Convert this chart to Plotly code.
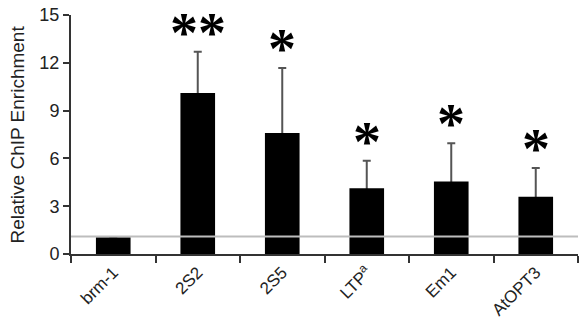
import plotly.graph_objects as go

categories = ["brm-1", "2S2", "2S5", "LTP<sup>a</sup>", "Em1", "AtOPT3"]
values = [1.05, 10.1, 7.6, 4.13, 4.55, 3.6]
errors = [0, 2.6, 4.07, 1.72, 2.4, 1.8]
stars = ["", "**", "*", "*", "*", "*"]
reference_level = 1.1

fig = go.Figure()
# error bars (drawn underneath the bars so the lower cap is hidden inside the bar)
fig.add_trace(go.Scatter(
    x=categories, y=values, mode="markers", marker=dict(size=1, opacity=0),
    error_y=dict(type="data", array=errors, arrayminus=[0.3]*len(errors), symmetric=False,
                 color="#555555", thickness=2, width=4),
    hoverinfo="skip", xaxis="x", yaxis="y",
))
fig.add_trace(go.Bar(
    x=categories, y=values, width=0.41,
    marker=dict(color="black", line=dict(width=0)),
    xaxis="x", yaxis="y2",
))

for c, v, e, s in zip(categories, values, errors, stars):
    if s:
        fig.add_annotation(x=c, y=v + e, text=s, showarrow=False, xref="x", yref="y",
                           yanchor="middle", yshift=19,
                           font=dict(family="Liberation Serif", size=56, color="black",
                                     weight="bold"))

fig.add_annotation(text="Relative ChIP Enrichment", xref="paper", yref="paper", x=0, y=0.5,
                   xshift=-54, textangle=-90, showarrow=False, xanchor="center", yanchor="middle",
                   font=dict(size=19, family="Liberation Sans", color="#222222"))

fig.add_shape(type="line", xref="paper", yref="y", x0=0, x1=1, y0=reference_level, y1=reference_level,
              line=dict(color="#bdbdbd", width=2), layer="above")

fig.update_layout(
    width=580, height=330, margin=dict(l=71, r=2, t=15, b=76),
    plot_bgcolor="white", paper_bgcolor="white", showlegend=False,
    font=dict(family="Liberation Sans", size=18, color="#222222"),
    yaxis2=dict(range=[0, 15], overlaying="y", visible=False),
)
fig.update_layout(yaxis=dict(range=[0, 15], tickvals=[0, 3, 6, 9, 12, 15], ticks="outside", ticklen=6,
                 tickwidth=2, tickcolor="#333", showline=True, linecolor="#333", linewidth=2,
                 showgrid=False, zeroline=False, automargin=False,
                 tickfont=dict(size=18)))
fig.update_xaxes(range=[-0.5, 5.5], tickangle=-45, ticks="outside", ticklen=7, tickwidth=2,
                 tickcolor="#333", tickson="boundaries", showline=True, linecolor="#333", linewidth=2,
                 showgrid=False, automargin=False, tickfont=dict(size=17))

fig.write_html("out.html", config={"displayModeBar": False},
               post_script="document.body.style.margin='0';")
